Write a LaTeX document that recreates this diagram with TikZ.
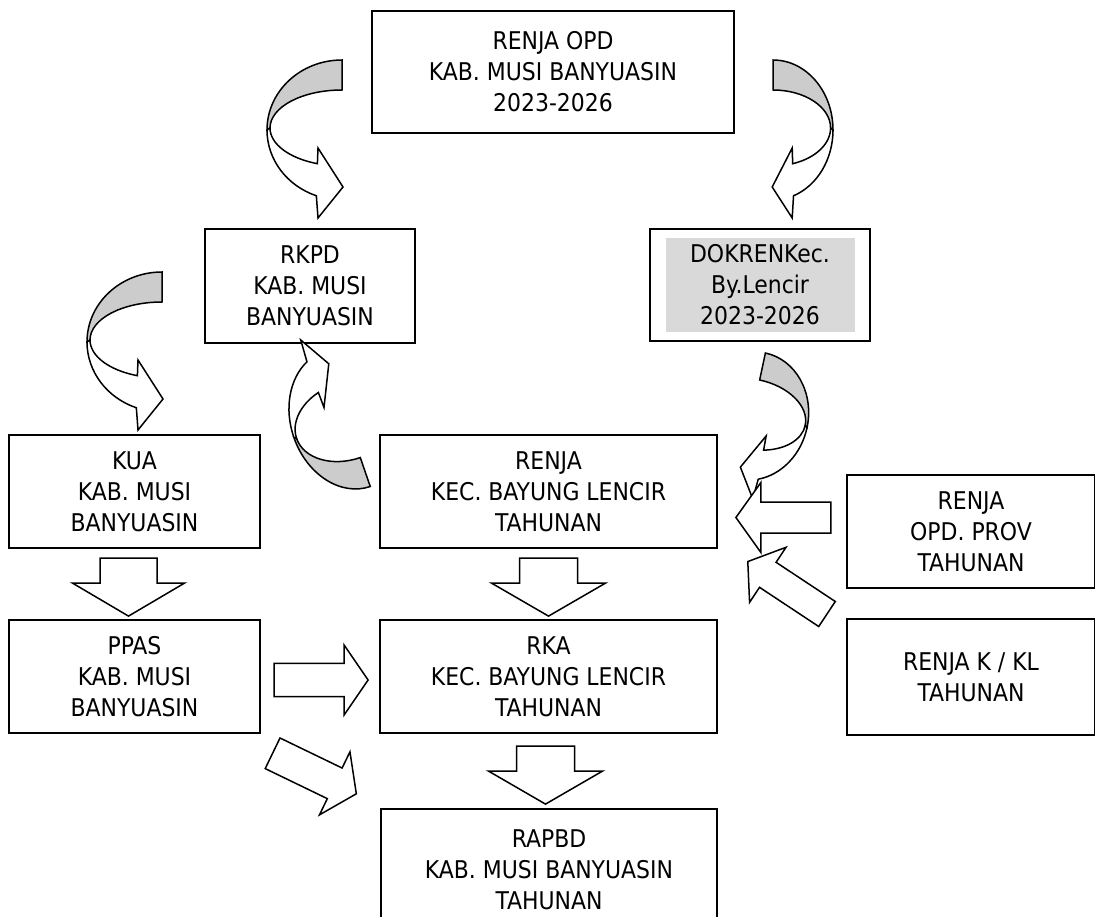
\documentclass[tikz,border=0pt]{standalone}
\usepackage{fontspec}
\setmainfont{DejaVu Sans Condensed}
\usetikzlibrary{calc}

\definecolor{backgray}{RGB}{204,204,204}
\definecolor{shade}{RGB}{217,217,217}

\newcommand{\barrow}[6]{% start, angle, length, half shaft, half head, head length
  \begin{scope}[shift={#1}, rotate=#2]
    \draw[barr] (0,-#4) -- (#3-#6,-#4) -- (#3-#6,-#5) -- (#3,0) -- (#3-#6,#5) -- (#3-#6,#4) -- (0,#4) -- cycle;
  \end{scope}}

\tikzset{
  box/.style={draw, line width=2.2pt, align=center, inner sep=0pt,
    font=\fontsize{24.4}{31}\selectfont},
  barr/.style={draw, fill=white, line width=1.5pt},
  pics/curvarrow/.style={code={
    % back part
    \filldraw[fill=backgray, line width=1.5pt] (0,-70)
      arc[start angle=270, end angle=180, x radius=75, y radius=70] -- (-72,-2)
      arc[start angle=180, end angle=270, x radius=72, y radius=38] -- cycle;
    % front part with head
    \filldraw[fill=white, line width=1.5pt] (-75,0)
      arc[start angle=180, end angle=110, x radius=75, y radius=70]
      -- (-24,88) -- (1,57) -- (-24,18) -- (-24.6,33.7)
      arc[start angle=110, end angle=180, x radius=72, y radius=38] -- cycle;
  }}
}

\begin{document}
\begin{tikzpicture}[x=1pt, y=-1pt]
    \useasboundingbox (0,0) rectangle (1095,917);
    \clip (0,0) rectangle (1095,917);
    % Boxes
    \node[box, minimum width=362, minimum height=122] (renjaopd) at (553,72) {RENJA OPD\\KAB. MUSI BANYUASIN\\2023-2026};
    \node[box, minimum width=210, minimum height=114] (rkpd) at (310,286) {RKPD\\KAB. MUSI\\BANYUASIN};
    \node[box, minimum width=220, minimum height=112] (dokren) at (760,285) {};
    \node[fill=shade, align=center, inner sep=0pt, minimum width=189, minimum height=94,
      font=\fontsize{24.4}{31}\selectfont] (dokrentxt) at (dokren) {DOKRENKec.\\By.Lencir\\2023-2026};
    \node[box, minimum width=251, minimum height=113] (kua) at (134.5,491.5) {KUA\\KAB. MUSI\\BANYUASIN};
    \node[box, minimum width=337, minimum height=113] (renjakec) at (548.5,491.5) {RENJA\\KEC. BAYUNG LENCIR\\TAHUNAN};
    \node[box, minimum width=248, minimum height=113] (renjaprov) at (971,531.5) {RENJA\\OPD. PROV\\TAHUNAN};
    \node[box, minimum width=251, minimum height=113] (ppas) at (134.5,676.5) {PPAS\\KAB. MUSI\\BANYUASIN};
    \node[box, minimum width=337, minimum height=113] (rka) at (548.5,676.5) {RKA\\KEC. BAYUNG LENCIR\\TAHUNAN};
    \node[box, minimum width=248, minimum height=116] (renjakl) at (971,677) {RENJA K / KL\\TAHUNAN};
    \node[box, minimum width=336, minimum height=121] (rapbd) at (549,869.5) {RAPBD\\KAB. MUSI BANYUASIN\\TAHUNAN};
    % Curved arrows
    \pic at (342,130) {curvarrow};
    \pic[xscale=-0.8] at (773,130) {curvarrow};
    \pic at (162,342) {curvarrow};
    \pic[rotate=19, xscale=0.75, yscale=-1.02] at (347,419) {curvarrow};
    \pic[rotate=-12, xscale=-0.75, yscale=0.92] at (752,416) {curvarrow};
    % Block arrows
    \barrow{($(kua.south)+(-6,9)$)}{-90}{58}{28.5}{56}{33}
    \barrow{($(renjakec.south)+(0,9)$)}{-90}{58}{29}{57}{33}
    \barrow{($(rka.south)+(-3,12)$)}{-90}{58}{29}{57}{33}
    \barrow{($(ppas.east)+(13,3.5)$)}{0}{94}{16.7}{35}{24}
    \barrow{(272.6,753.3)}{-25.8}{93}{17}{35}{24}
    \barrow{($(renjaprov.west)+(-15,-14)$)}{180}{95}{15.5}{35}{25}
    \barrow{(827,614)}{146.5}{95}{15}{33}{24}
\end{tikzpicture}
\end{document}
